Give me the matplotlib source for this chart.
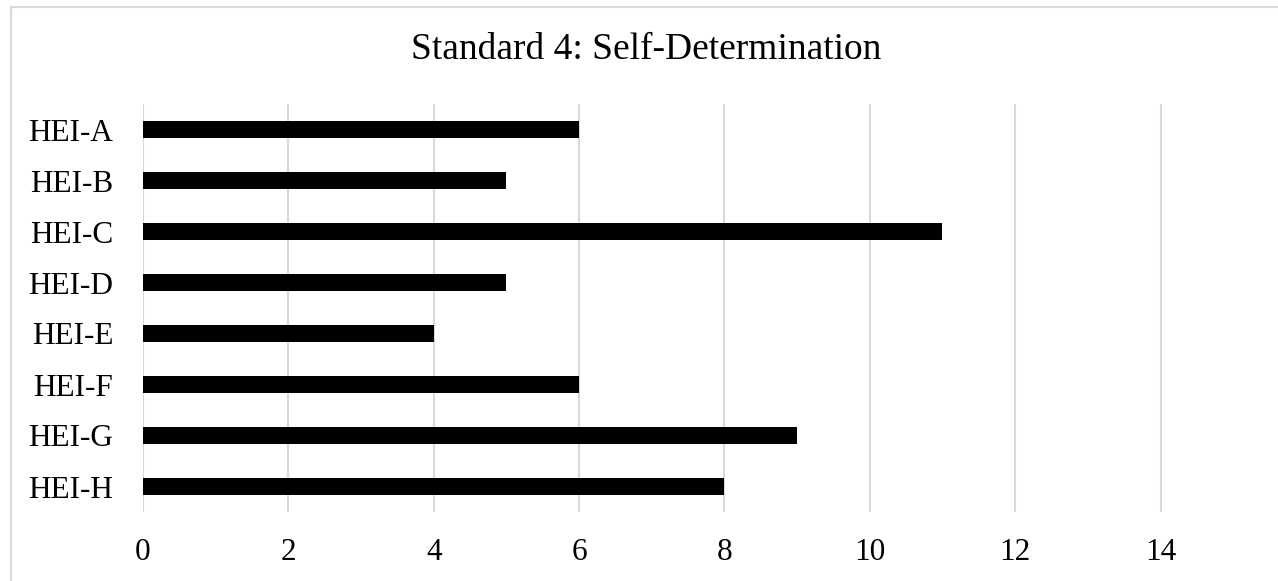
import numpy as np
import matplotlib.pyplot as plt
from matplotlib.patches import Rectangle

# Standard 4 scores per institution
institutions = ["HEI-A", "HEI-B", "HEI-C", "HEI-D", "HEI-E", "HEI-F", "HEI-G", "HEI-H"]
scores = [6, 5, 11, 5, 4, 6, 9, 8]
x_ticks = [0, 2, 4, 6, 8, 10, 12, 14]

plt.rcParams['font.family'] = ['Liberation Serif', 'DejaVu Serif']

fig = plt.figure(figsize=(12.78, 5.81), dpi=100)

# light grey chart frame
fig.patches.append(Rectangle((11 / 1278, -0.05), 1.2, 1 - 7 / 581 + 0.05,
                             transform=fig.transFigure, fill=False,
                             edgecolor='#d9d9d9', linewidth=1.5))

ax = fig.add_axes([143 / 1278, 69 / 581, 1112 / 1278, 408 / 581])

y = np.arange(len(institutions))
ax.barh(y, scores, height=0.33, color='black', zorder=3)

ax.set_xlim(0, 15.3)
ax.set_ylim(len(institutions) - 0.5, -0.5)
ax.set_xticks(x_ticks)
ax.set_xticklabels([str(t) for t in x_ticks])
ax.set_yticks(y)
ax.set_yticklabels(institutions)
ax.tick_params(axis='both', length=0, labelsize=22.5)
ax.tick_params(axis='x', pad=18.5)
ax.tick_params(axis='y', pad=21.5)

ax.grid(axis='x', color='#d9d9d9', linewidth=1.5, zorder=0)
for s in ax.spines.values():
    s.set_visible(False)

fig.text(646 / 1278, 1 - 50 / 581, "Standard 4: Self-Determination",
         ha='center', va='center', fontsize=27)

fig.savefig('out.png', dpi=100)
